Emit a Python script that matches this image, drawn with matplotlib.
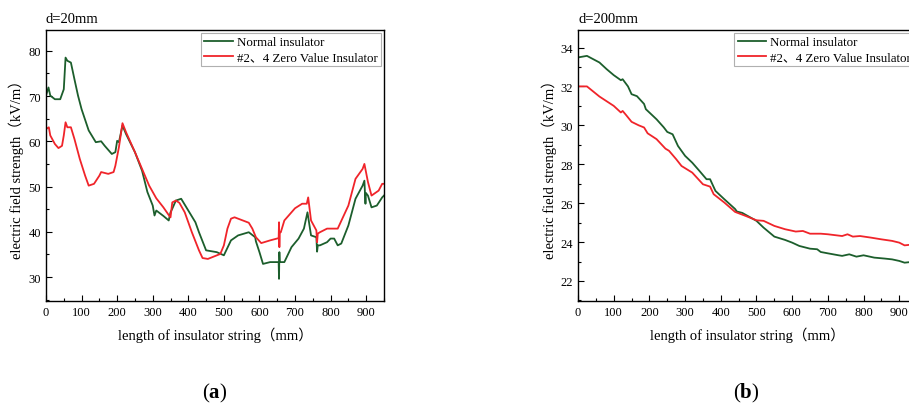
import matplotlib
matplotlib.use("Agg")
import matplotlib.pyplot as plt
from matplotlib.ticker import MultipleLocator

plt.rcParams['font.family'] = ['Liberation Serif', 'Noto Sans CJK SC']
plt.rcParams['mathtext.fontset'] = 'custom'
plt.rcParams['mathtext.rm'] = 'Liberation Serif'
plt.rcParams['mathtext.bf'] = 'Liberation Serif:bold'

# --- d=20mm ---
x20_normal = [0, 7, 12, 25, 40, 50, 55, 60, 70, 80, 90, 100, 120, 140, 155, 165, 185, 195,
              200, 205, 215, 225, 250, 270, 285, 300, 305, 310, 330, 345, 350, 355, 365,
              380, 400, 420, 430, 450, 480, 500, 520, 540, 570, 588, 590, 600, 610, 630,
              654, 655, 656, 657, 670, 690, 710, 725, 735, 745, 760, 762, 764, 770, 790,
              800, 810, 820, 830, 850, 870, 890, 895, 898, 899, 905, 915, 930, 945, 950]
y20_normal = [70.1, 71.9, 70.1, 69.3, 69.3, 71.5, 78.5, 77.8, 77.4, 73.7, 70.1, 67.1, 62.4,
              59.8, 60.0, 59.0, 57.2, 57.6, 60.1, 59.8, 63.5, 61.6, 57.6, 53.5, 48.8, 45.8,
              43.6, 44.7, 43.5, 42.5, 44.3, 45.1, 46.9, 47.3, 44.7, 42.1, 39.9, 35.9, 35.5,
              34.8, 38.1, 39.2, 39.9, 38.8, 37.9, 35.5, 32.9, 33.3, 33.3, 29.6, 35.5, 33.3,
              33.3, 36.6, 38.5, 40.7, 44.3, 39.2, 38.8, 35.6, 37.0, 37.0, 37.7, 38.5, 38.5,
              37.0, 37.4, 41.4, 47.3, 50.2, 51.3, 46.2, 48.6, 48.0, 45.4, 45.8, 47.6, 48.0]

x20_zero = [0, 8, 12, 25, 35, 45, 50, 55, 60, 70, 80, 95, 110, 120, 135, 150, 155, 175, 190,
            195, 205, 215, 225, 250, 270, 290, 310, 330, 345, 350, 355, 365, 375, 390, 410,
            430, 440, 455, 490, 500, 510, 520, 530, 570, 580, 590, 605, 630, 654, 655, 656,
            657, 660, 670, 690, 700, 720, 733, 737, 745, 760, 762, 764, 770, 790, 820, 850,
            870, 890, 895, 905, 915, 935, 945, 950]
y20_zero = [62.7, 63.1, 61.3, 59.4, 58.5, 59.0, 61.3, 64.2, 63.1, 63.1, 60.5, 56.1, 52.4,
            50.2, 50.6, 52.4, 53.2, 52.8, 53.2, 54.6, 58.7, 64.0, 62.0, 57.6, 53.9, 50.2,
            47.4, 45.4, 43.7, 43.2, 46.5, 46.9, 46.4, 44.3, 39.9, 35.9, 34.2, 34.0, 35.1,
            37.0, 40.7, 42.9, 43.2, 42.0, 40.7, 38.8, 37.5, 38.1, 38.6, 42.1, 36.6, 39.9,
            39.9, 42.5, 44.3, 45.2, 46.2, 46.2, 47.6, 42.5, 40.3, 37.7, 39.6, 39.9, 40.7,
            40.7, 45.8, 51.7, 53.9, 55.0, 51.0, 48.0, 49.1, 50.6, 50.6]

# --- d=200mm ---
x200_normal = [0, 25, 60, 80, 100, 120, 125, 140, 150, 165, 185, 190, 220, 240, 250, 265,
               280, 300, 320, 340, 360, 370, 385, 410, 440, 445, 460, 500, 520, 550, 580,
               600, 620, 650, 670, 680, 700, 730, 740, 760, 780, 800, 830, 860, 880, 900,
               915, 930, 950]
y200_normal = [33.49, 33.57, 33.23, 32.89, 32.58, 32.32, 32.37, 32.0, 31.6, 31.5, 31.1,
               30.83, 30.31, 29.9, 29.66, 29.54, 28.94, 28.43, 28.08, 27.66, 27.23, 27.23,
               26.63, 26.2, 25.7, 25.57, 25.5, 25.09, 24.74, 24.28, 24.11, 23.97, 23.8,
               23.66, 23.63, 23.49, 23.42, 23.32, 23.29, 23.37, 23.25, 23.32, 23.2, 23.15,
               23.11, 23.03, 22.94, 22.97, 22.95]

x200_zero = [0, 25, 60, 100, 120, 125, 135, 150, 170, 185, 195, 220, 245, 255, 275, 290,
             320, 350, 370, 380, 410, 440, 470, 500, 520, 550, 580, 610, 630, 650, 680,
             700, 740, 755, 770, 790, 820, 850, 880, 900, 915, 930, 950]
y200_zero = [32.0, 32.0, 31.48, 31.0, 30.66, 30.74, 30.52, 30.18, 30.0, 29.89, 29.59,
             29.29, 28.8, 28.69, 28.26, 27.91, 27.57, 26.97, 26.85, 26.46, 26.03, 25.55,
             25.34, 25.12, 25.09, 24.83, 24.66, 24.54, 24.57, 24.43, 24.43, 24.4, 24.31,
             24.4, 24.28, 24.31, 24.23, 24.14, 24.06, 23.97, 23.83, 23.86, 23.85]

green = '#1c5e2c'
red = '#f0242a'

fig = plt.figure(figsize=(9.09, 4.10), dpi=100)
ax1 = fig.add_axes([0.0506, 0.2634, 0.3718, 0.661])
ax2 = fig.add_axes([0.6359, 0.2634, 0.373, 0.661])

panels = [
    (ax1, x20_normal, y20_normal, x20_zero, y20_zero, (24.7, 84.6), 10, 5, 'd=20mm', '(a)'),
    (ax2, x200_normal, y200_normal, x200_zero, y200_zero, (20.97, 34.9), 2, 1, 'd=200mm', '(b)'),
]

for ax, xn, yn, xz, yz, ylim, ymaj, ymin, title, tag in panels:
    ax.plot(xn, yn, color=green, lw=1.3, label='Normal insulator')
    ax.plot(xz, yz, color=red, lw=1.3, label='#2、4 Zero Value Insulator')
    ax.set_xlim(0, 950)
    ax.set_ylim(*ylim)
    ax.xaxis.set_major_locator(MultipleLocator(100))
    ax.xaxis.set_minor_locator(MultipleLocator(50))
    ax.yaxis.set_major_locator(MultipleLocator(ymaj))
    ax.yaxis.set_minor_locator(MultipleLocator(ymin))
    ax.tick_params(which='both', direction='in', labelsize=9, width=0.8)
    ax.tick_params(which='major', length=4)
    ax.tick_params(which='minor', length=2.5)
    for s in ax.spines.values():
        s.set_linewidth(1.0)
    ax.set_xlabel('length of insulator string（mm）', fontsize=10.5, labelpad=6)
    ax.set_ylabel('electric field strength（kV/m）', fontsize=10.5, labelpad=3)
    ax.set_title(title, loc='left', fontsize=10.5, pad=6)
    leg = ax.legend(loc='upper right', fontsize=9.3, fancybox=False, framealpha=1,
                    edgecolor='#b0b0b0', borderaxespad=0.25, handlelength=2.2,
                    handletextpad=0.3, labelspacing=0.2, borderpad=0.25)
    leg.get_frame().set_linewidth(0.8)
    cx = ax.get_position().x0 + 0.1855
    fig.text(cx, 0.04, r'($\mathbf{' + tag[1] + r'}$)', ha='center', va='center', fontsize=15)

fig.savefig('out.png', dpi=100)
